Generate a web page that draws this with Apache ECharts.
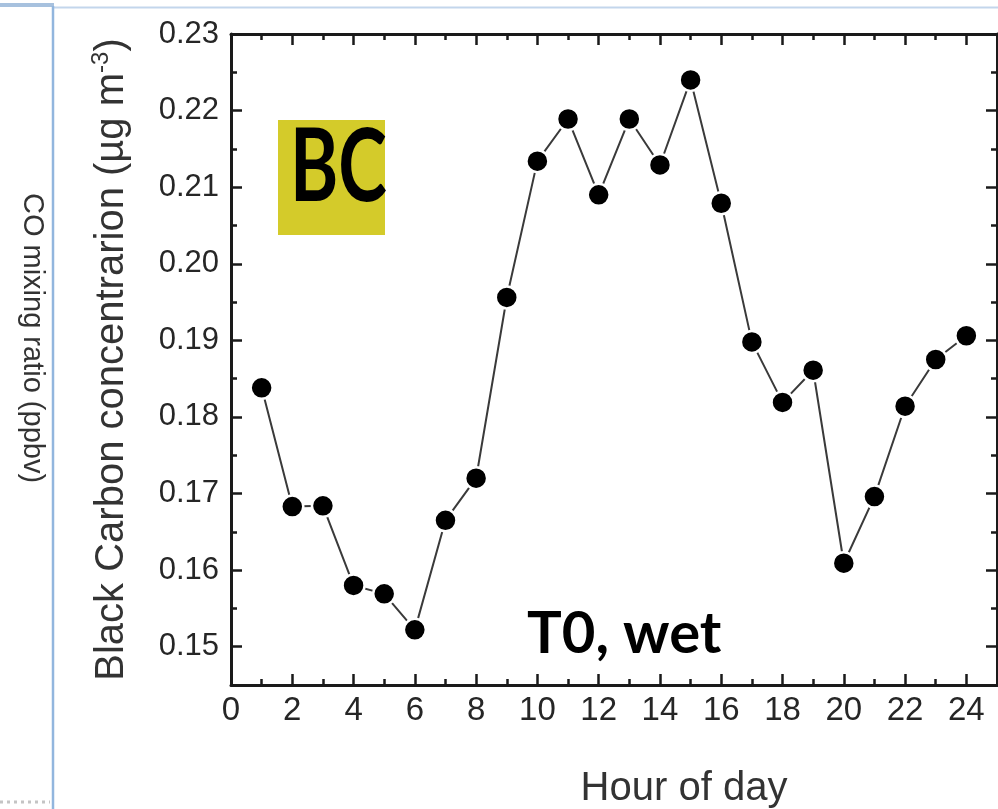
<!DOCTYPE html>
<html>
<head>
<meta charset="utf-8">
<script src="https://cdn.jsdelivr.net/npm/echarts@6/dist/echarts.min.js"></script>
<style>
  html, body { margin: 0; padding: 0; background: #fff; }
  #chart { width: 998px; height: 809px; }
</style>
</head>
<body>
<div id="chart"></div>
<script>
// ---- data ----
const hours = [1, 2, 3, 4, 5, 6, 7, 8, 9, 10, 11, 12, 13, 14, 15, 16, 17, 18, 19, 20, 21, 22, 23, 24];
const bcValues = [0.1838, 0.1683, 0.1684, 0.1580, 0.1569, 0.1522, 0.1665, 0.1720, 0.1956, 0.2134, 0.2189, 0.2090,
                  0.2189, 0.2129, 0.2240, 0.2079, 0.1898, 0.1819, 0.1861, 0.1609, 0.1696, 0.1814, 0.1875, 0.1906];
const xMajorTicks = [0, 2, 4, 6, 8, 10, 12, 14, 16, 18, 20, 22, 24];
const xMinorTicks = [1, 3, 5, 7, 9, 11, 13, 15, 17, 19, 21, 23];
const yMajorTicks = [0.15, 0.16, 0.17, 0.18, 0.19, 0.20, 0.21, 0.22, 0.23];
const yMinorTicks = [0.155, 0.165, 0.175, 0.185, 0.195, 0.205, 0.215, 0.225];
const xTitle = 'Hour of day';
const yTitle = 'Black Carbon concentrarion (µg m';
const yTitleSup = '-3';
const coTitle = 'CO mixing ratio (ppbv)';
const panelLabel = 'BC';
const caseLabel = 'T0, wet';

const X_MIN = 0, X_MAX = 25, Y_MIN = 0.145, Y_MAX = 0.23;
const AX = '#1a1a1a';

function xAx(pos, ticks, len, withLine, withLabels) {
  return {
    type: 'value', position: pos, min: X_MIN, max: X_MAX,
    axisLine: { show: withLine, onZero: false, lineStyle: { color: AX, width: 3 } },
    axisTick: { show: true, inside: true, length: len, customValues: ticks, lineStyle: { color: AX, width: 2.5 } },
    axisLabel: withLabels ? {
      show: true, customValues: xMajorTicks, margin: 9,
      fontFamily: 'Liberation Sans', fontSize: 33, color: '#262626'
    } : { show: false },
    splitLine: { show: false }
  };
}
function yAx(pos, ticks, len, withLine, withLabels) {
  return {
    type: 'value', position: pos, min: Y_MIN, max: Y_MAX,
    axisLine: { show: withLine, onZero: false, lineStyle: { color: AX, width: 3 } },
    axisTick: { show: true, inside: true, length: len, customValues: ticks, lineStyle: { color: AX, width: 2.5 } },
    axisLabel: withLabels ? {
      show: true, customValues: yMajorTicks, margin: 12,
      formatter: v => v.toFixed(2),
      fontFamily: 'Liberation Sans', fontSize: 31, color: '#262626'
    } : { show: false },
    splitLine: { show: false }
  };
}

const chart = echarts.init(document.getElementById('chart'), null, { renderer: 'canvas' });

const xAxes = [
  xAx('bottom', xMajorTicks, 11, true, true),
  xAx('bottom', xMinorTicks, 6, false, false),
  xAx('top', xMajorTicks, 11, true, false),
  xAx('top', xMinorTicks, 6, false, false)
];
xAxes[0].name = xTitle;
xAxes[0].nameLocation = 'middle';
xAxes[0].nameGap = 84;
xAxes[0].nameTextStyle = { fontFamily: 'Liberation Sans', fontSize: 40, color: '#333', padding: [0, 0, 0, 140] };

const yAxes = [
  yAx('left', yMajorTicks, 11, true, true),
  yAx('left', yMinorTicks, 6, false, false),
  yAx('right', yMajorTicks, 11, true, false),
  yAx('right', yMinorTicks, 6, false, false)
];
yAxes[0].name = '{a|' + yTitle + '}{s|' + yTitleSup + '}{a|)}';
yAxes[0].nameLocation = 'middle';
yAxes[0].nameGap = 96;
yAxes[0].nameRotate = 90;
yAxes[0].nameTextStyle = {
  color: '#333',
  rich: {
    a: { fontFamily: 'Liberation Sans', fontSize: 40, color: '#333', lineHeight: 46 },
    s: { fontFamily: 'Liberation Sans', fontSize: 24, color: '#333', lineHeight: 22, verticalAlign: 'top' }
  }
};

const option = {
  animation: false,
  backgroundColor: '#fff',
  grid: { left: 231, right: 1, top: 34, bottom: 124, outerBoundsMode: 'none' },
  xAxis: xAxes,
  yAxis: yAxes,
  series: [{
    type: 'line',
    xAxisIndex: 0, yAxisIndex: 0,
    data: hours.map((h, i) => [h, bcValues[i]]),
    symbol: 'circle', symbolSize: 22,
    itemStyle: { color: '#000', borderColor: '#fff', borderWidth: 2.5 },
    lineStyle: { color: '#3a3a3a', width: 2 },
    z: 5
  }],
  graphic: [
    // slide frame lines
    { type: 'rect', shape: { x: 0, y: 3, width: 54, height: 4 }, style: { fill: '#a7c1de' }, silent: true },
    { type: 'line', shape: { x1: 54, y1: 7.5, x2: 998, y2: 7.5 }, style: { stroke: '#c3d6ec', lineWidth: 2 }, silent: true },
    { type: 'line', shape: { x1: 53, y1: 6, x2: 53, y2: 809 }, style: { stroke: '#92b6de', lineWidth: 2.5 }, silent: true },
    { type: 'line', shape: { x1: 0, y1: 802, x2: 50, y2: 802 }, style: { stroke: '#c4c4c4', lineWidth: 3, lineDash: [3, 4] }, silent: true },
    // CO mixing ratio text (rotated clockwise)
    { type: 'text', x: 32, y: 338, rotation: -Math.PI / 2,
      style: { text: coTitle, fontFamily: 'Liberation Sans', fontSize: 29, fill: '#333', align: 'center', verticalAlign: 'middle' }, silent: true },
    // BC box
    { type: 'rect', shape: { x: 278, y: 120, width: 107, height: 115 }, style: { fill: '#d4cb2a' }, z: 10, silent: true },
    { type: 'text', x: 290, y: 168, scaleX: 0.72,
      style: { text: panelLabel, fontFamily: 'Lato', fontWeight: 'bold', fontSize: 102, fill: '#000', align: 'left', verticalAlign: 'middle' }, z: 11, silent: true },
    // case label
    { type: 'text', x: 527, y: 634,
      style: { text: caseLabel, fontFamily: 'Lato', fontWeight: 'bold', fontSize: 58, fill: '#000', align: 'left', verticalAlign: 'middle' }, z: 11, silent: true }
  ]
};
chart.setOption(option);
</script>
</body>
</html>
